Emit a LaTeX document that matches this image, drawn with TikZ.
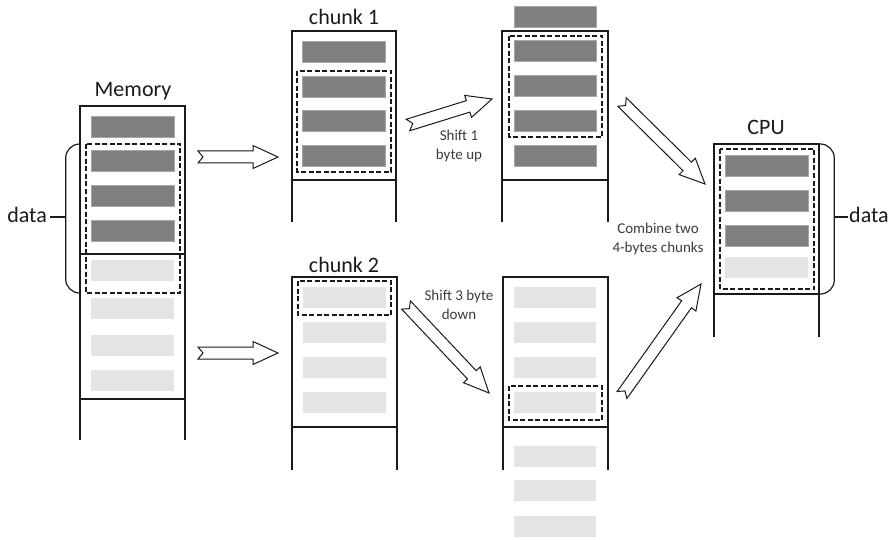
\documentclass[tikz,border=0pt]{standalone}
\usepackage{fontspec}
\setmainfont{Carlito}
\usetikzlibrary{calc}

\definecolor{bardark}{HTML}{7F7F7F}
\definecolor{baredge}{HTML}{A8A8A8}
\definecolor{barlight}{HTML}{E3E4E3}
\definecolor{ink}{HTML}{1A1A1A}

\tikzset{
  colline/.style={draw=ink, line width=1.2pt},
  darkbar/.style={fill=bardark, draw=baredge, line width=0.5pt},
  lightbar/.style={fill=barlight},
  selbox/.style={draw=ink, line width=1.1pt, dash pattern=on 5pt off 2.5pt},
  hollow/.style={draw=ink, fill=white, line width=1pt, line join=miter},
  bigtext/.style={font=\fontsize{22}{26}\selectfont, text=ink, inner sep=0pt},
  smalltext/.style={font=\fontsize{15}{18.5}\selectfont, text=ink!85, align=center, inner sep=0pt},
}

% open-ended column: two walls, a roof, and dividers
\newcommand\memcolumn[5]{% left, right, top, divider, wall end
  \draw[colline] (#1,#5) -- (#1,#3) -- (#2,#3) -- (#2,#5);
  \draw[colline] (#1,#4) -- (#2,#4);
}
% one byte cell: left, right, top
\newcommand\darkcell[3]{\path[darkbar] (#1,#3) rectangle (#2,#3+21);}
\newcommand\lightcell[3]{\path[lightbar] (#1,#3) rectangle (#2,#3+21);}

% hollow block arrow with notched tail, from coordinate #1 to coordinate #2
\newcommand\hollowarrow[2]{%
  \coordinate (ha-b) at ($(#2)!25pt!(#1)$);
  \coordinate (ha-n) at ($(#1)!5pt!(#2)$);
  \draw[hollow] ($(#1)!6pt!90:(#2)$) -- ($(ha-b)!6pt!90:(#2)$)
    -- ($(ha-b)!11.5pt!90:(#2)$) -- (#2)
    -- ($(ha-b)!11.5pt!-90:(#2)$) -- ($(ha-b)!6pt!-90:(#2)$)
    -- ($(#1)!6pt!-90:(#2)$) -- (ha-n) -- cycle;
}

\begin{document}
\begin{tikzpicture}[x=1pt, y=-1pt]
\useasboundingbox (0,0) rectangle (896,540);

% ---------- Memory ----------
\memcolumn{80}{185}{106}{254}{440}
\draw[colline] (80,399) -- (185,399);
\foreach \t in {116,150,185,220} {\darkcell{91}{174}{\t}}
\foreach \t in {260,298,335,370} {\lightcell{91}{174}{\t}}
\draw[selbox] (86,144) rectangle (180,293);
\node[bigtext, anchor=base] (memlabel) at (133,97) {Memory};
% brace marking the data word
\draw[colline, rounded corners=14pt] (80,144) -- (65.7,144) -- (65.7,293) -- (80,293);
\coordinate (memtick) at (65.7,217);
\node[bigtext, anchor=base east] (dataL) at (47,222) {data};
\draw[colline] (memtick) -- (50,217);

% ---------- chunk 1 ----------
\memcolumn{292}{396}{31}{180}{222}
\foreach \t in {41,76,110,145} {\darkcell{302}{385}{\t}}
\draw[selbox] (297,71) rectangle (391,172);
\node[bigtext, anchor=base] (ch1label) at (344,25) {chunk 1};

% ---------- chunk 1 shifted ----------
\memcolumn{502}{608}{31}{180}{222}
\foreach \t in {6,40,75,110,145} {\darkcell{514}{596}{\t}}
\draw[selbox] (509,36) rectangle (602,137);

% ---------- chunk 2 ----------
\memcolumn{292}{397}{277}{427}{470}
\foreach \t in {287,322,357,392} {\lightcell{303}{386}{\t}}
\draw[selbox] (298,281) rectangle (391,315);
\node[bigtext, anchor=base] (ch2label) at (344,272) {chunk 2};

% ---------- chunk 2 shifted ----------
\memcolumn{503}{608}{277}{427}{470}
\foreach \t in {287,322,357,392,446,480,516} {\lightcell{514}{596}{\t}}
\draw[selbox] (509,386) rectangle (602,420);

% ---------- CPU ----------
\memcolumn{714}{819}{144}{294}{337}
\foreach \t in {155,190,225} {\darkcell{725}{808}{\t}}
\lightcell{725}{808}{257}
\draw[selbox] (720,149) rectangle (814,289);
\node[bigtext, anchor=base] (cpulabel) at (766,135) {CPU};
\draw[colline, rounded corners=14pt] (819,144) -- (834.3,144) -- (834.3,294) -- (819,294);
\coordinate (cputick) at (834.3,217);
\node[bigtext, anchor=base west] (dataR) at (849,222) {data};
\draw[colline] (cputick) -- (848,217);

% ---------- arrow end points ----------
\coordinate (memA) at (198,157);   \coordinate (ch1in) at (278,157);
\coordinate (memB) at (198,353);   \coordinate (ch2in) at (278,353);
\coordinate (ch1out) at (408,125); \coordinate (up1in) at (492,99);
\coordinate (ch2out) at (406,305); \coordinate (dn3in) at (489,393);
\coordinate (up1out) at (622,102); \coordinate (cpuinA) at (705,184);
\coordinate (dn3out) at (622,395); \coordinate (cpuinB) at (701,284);

\hollowarrow{memA}{ch1in}
\hollowarrow{memB}{ch2in}
\hollowarrow{ch1out}{up1in}
\hollowarrow{ch2out}{dn3in}
\hollowarrow{up1out}{cpuinA}
\hollowarrow{dn3out}{cpuinB}

% ---------- step labels ----------
\node[smalltext] (shiftup) at (459,146) {Shift 1\\byte up};
\node[smalltext] (shiftdown) at (459,305) {Shift 3 byte\\down};
\node[smalltext] (combine) at (658,239) {Combine two\\4-bytes chunks};

\end{tikzpicture}
\end{document}
